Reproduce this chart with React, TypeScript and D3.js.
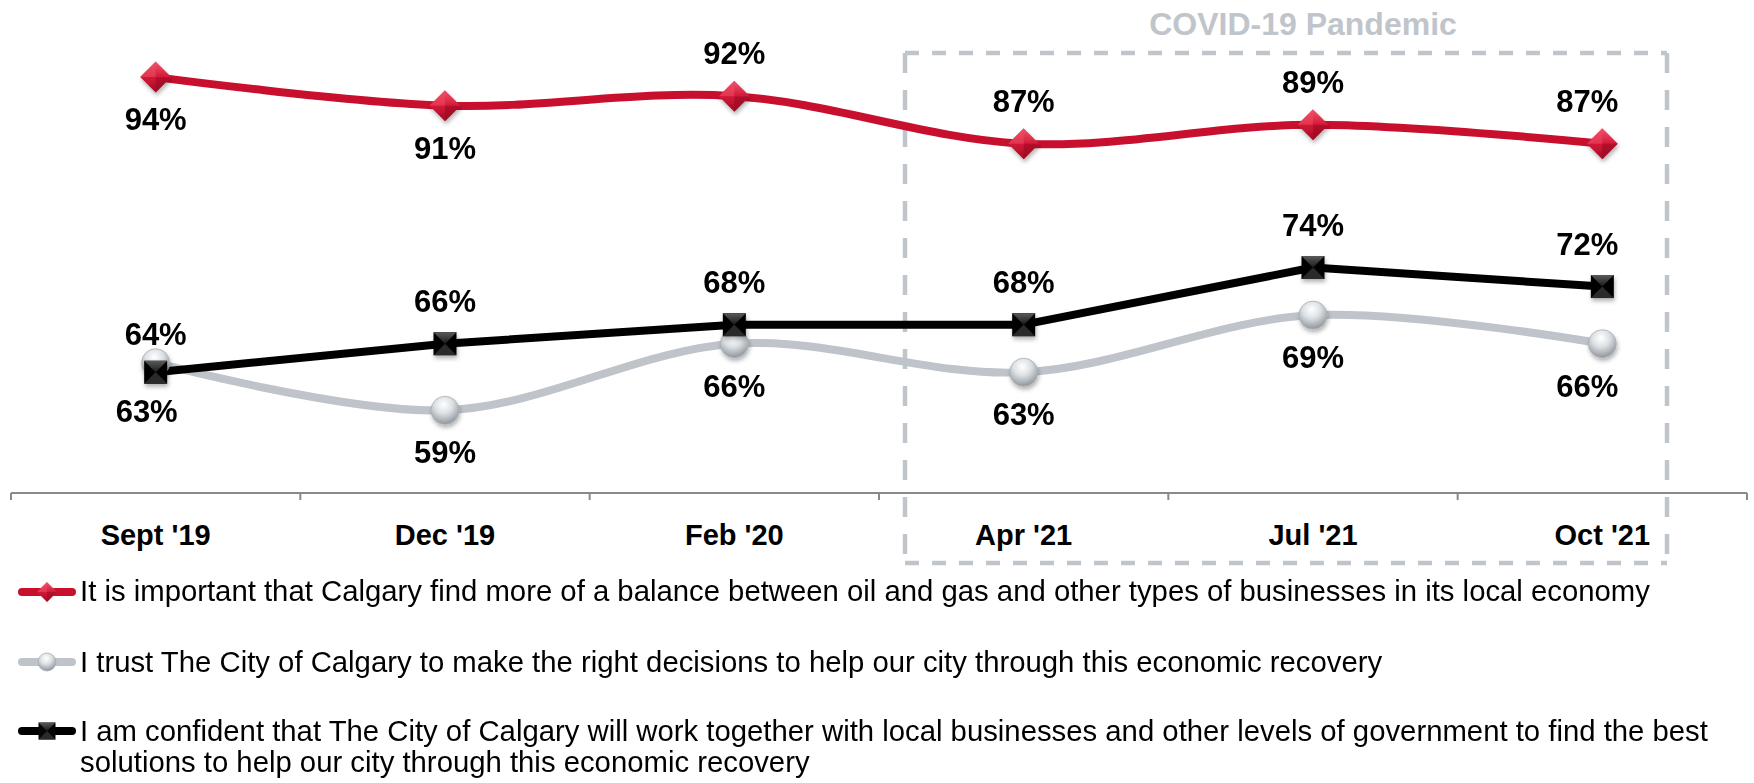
import React from "react";
import * as d3 from "d3";

const categories = ["Sept '19", "Dec '19", "Feb '20", "Apr '21", "Jul '21", "Oct '21"];
const balanceValues = [94, 91, 92, 87, 89, 87];
const trustValues = [64, 59, 66, 63, 69, 66];
const confidentValues = [63, 66, 68, 68, 74, 72];
const balanceLabelPos = ["below", "below", "above", "above", "above", "above"];
const trustLabelPos = ["above", "below", "below", "below", "below", "below"];
const confidentLabelPos = ["below", "above", "above", "above", "above", "above"];
const legendTexts = [
  ["It is important that Calgary find more of a balance between oil and gas and other types of businesses in its local economy"],
  ["I trust The City of Calgary to make the right decisions to help our city through this economic recovery"],
  [
    "I am confident that The City of Calgary will work together with local businesses and other levels of government to find the best",
    "solutions to help our city through this economic recovery",
  ],
];
const covidTitle = "COVID-19 Pandemic";

const W = 1754;
const H = 783;
const FONT = "'Liberation Sans', Arial, Helvetica, sans-serif";
const RED = "#C8102E";
const GRAY = "#BEC4CA";
const BLACK = "#000000";
const BOX = "#BFC5CB";

const x = d3.scalePoint<string>().domain(categories).range([11, 1747]).padding(0.5);
const y = d3.scaleLinear().domain([50, 100]).range([496, 20]);
const step = x.step();
const boundaries = d3.range(categories.length + 1).map((i) => 11 + i * step);

function Diamond({ cx, cy, r }: { cx: number; cy: number; r: number }) {
  return (
    <g>
      <path d={`M${cx},${cy - r}L${cx + r},${cy}L${cx},${cy + r}L${cx - r},${cy}Z`} fill="url(#gDiamond)" />
      <path d={`M${cx - r},${cy}L${cx},${cy - r}L${cx},${cy}Z`} fill="#EE4A63" opacity={0.55} />
      <path d={`M${cx},${cy}L${cx + r},${cy}L${cx},${cy + r}Z`} fill="#8E0A20" opacity={0.45} />
    </g>
  );
}

function Square({ cx, cy, r }: { cx: number; cy: number; r: number }) {
  return (
    <g>
      <rect x={cx - r} y={cy - r} width={2 * r} height={2 * r} fill="#050505" />
      <path d={`M${cx - r},${cy - r}L${cx + r},${cy - r}L${cx},${cy}Z`} fill="url(#gSqTop)" />
      <path d={`M${cx - r},${cy + r}L${cx + r},${cy + r}L${cx},${cy}Z`} fill="#2a2a2a" />
    </g>
  );
}

function Ball({ cx, cy, r }: { cx: number; cy: number; r: number }) {
  return <circle cx={cx} cy={cy} r={r} fill="url(#gBall)" stroke="#A9AFB5" strokeWidth={0.8} />;
}

type Series = {
  values: number[];
  color: string;
  curve: d3.CurveFactory;
  pos: string[];
  marker: "diamond" | "ball" | "square";
};

const series: Series[] = [
  { values: trustValues, color: GRAY, curve: d3.curveCardinal.tension(0), pos: trustLabelPos, marker: "ball" },
  { values: confidentValues, color: BLACK, curve: d3.curveLinear, pos: confidentLabelPos, marker: "square" },
  { values: balanceValues, color: RED, curve: d3.curveCardinal.tension(0), pos: balanceLabelPos, marker: "diamond" },
];

function drawMarker(kind: string, cx: number, cy: number, big: boolean, key?: string) {
  if (kind === "diamond") return <Diamond key={key} cx={cx} cy={cy} r={big ? 15.5 : 10} />;
  if (kind === "ball") return <Ball key={key} cx={cx} cy={cy} r={big ? 14 : 9} />;
  return <Square key={key} cx={cx} cy={cy} r={big ? 11.5 : 8.5} />;
}

export default function App() {
  const lineGen = (s: Series) =>
    d3
      .line<number>()
      .x((_, i) => x(categories[i]) as number)
      .y((v) => y(v))
      .curve(s.curve)(s.values) as string;

  const boxL = 905;
  const boxR = 1667;
  const boxT = 53;
  const boxB = 563;

  const legendRows = [
    { y: 592, base: 601, kind: "diamond", color: RED },
    { y: 662, base: 672, kind: "ball", color: GRAY },
    { y: 731, base: 741, kind: "square", color: BLACK },
  ];

  return (
    <svg
      width={W}
      height={H}
      viewBox={`0 0 ${W} ${H}`}
      style={{ position: "absolute", left: 0, top: 0, background: "#fff" }}
      fontFamily={FONT}
    >
      <defs>
        <linearGradient id="gDiamond" x1="0" y1="0" x2="0" y2="1">
          <stop offset="0%" stopColor="#F0566D" />
          <stop offset="50%" stopColor="#D41838" />
          <stop offset="100%" stopColor="#A00B24" />
        </linearGradient>
        <linearGradient id="gSqTop" x1="0" y1="0" x2="0" y2="1">
          <stop offset="0%" stopColor="#5a5a5a" />
          <stop offset="100%" stopColor="#1a1a1a" />
        </linearGradient>
        <radialGradient id="gBall" cx="45%" cy="30%" r="70%">
          <stop offset="0%" stopColor="#FFFFFF" />
          <stop offset="45%" stopColor="#DDE1E4" />
          <stop offset="100%" stopColor="#8F969C" />
        </radialGradient>
        <filter id="shadow" x="-50%" y="-50%" width="200%" height="200%">
          <feDropShadow dx="1" dy="3" stdDeviation="2" floodColor="#000" floodOpacity="0.3" />
        </filter>
      </defs>
      <rect width={W} height={H} fill="#fff" />

      {/* COVID box */}
      <text x={(1150 + 1456) / 2} y={35} textAnchor="middle" fontSize={32} fontWeight="bold" fill={BOX}>
        {covidTitle}
      </text>
      <g stroke={BOX} strokeWidth={4.5} fill="none">
        <line x1={boxL} y1={boxT} x2={boxR} y2={boxT} strokeDasharray="14 13" />
        <line x1={boxL} y1={boxB} x2={boxR} y2={boxB} strokeDasharray="14 13" />
        <line x1={boxL} y1={boxT} x2={boxL} y2={boxB} strokeDasharray="20 17" />
        <line x1={boxR} y1={boxT} x2={boxR} y2={boxB} strokeDasharray="20 17" />
      </g>

      {/* axis */}
      <line x1={11} y1={493} x2={1747} y2={493} stroke="#8A8A8A" strokeWidth={2} />
      {boundaries.map((bx, i) => (
        <line key={i} x1={bx} y1={493} x2={bx} y2={500} stroke="#8A8A8A" strokeWidth={2} />
      ))}
      {categories.map((c) => (
        <text key={c} x={x(c)} y={545} textAnchor="middle" fontSize={29} fontWeight="bold" fill="#000">
          {c}
        </text>
      ))}

      {/* lines */}
      {series.map((s, si) => (
        <path key={si} d={lineGen(s)} fill="none" stroke={s.color} strokeWidth={8} strokeLinejoin="round" />
      ))}
      {/* markers */}
      {series.map((s, si) => (
        <g key={si} filter="url(#shadow)">
          {s.values.map((v, i) => drawMarker(s.marker, x(categories[i]) as number, y(v), true, `${si}-${i}`))}
        </g>
      ))}
      {/* labels */}
      {series.map((s, si) =>
        s.values.map((v, i) => {
          const cx = x(categories[i]) as number;
          const cy = y(v);
          let dy = s.pos[i] === "above" ? -32 : 53;
          let dx = 0;
          if (i === categories.length - 1) dx = -15;
          if (i === 0 && s.marker === "ball") dy = -18;
          if (i === 0 && s.marker === "square") {
            dy = 50;
            dx = -9;
          }
          return (
            <text
              key={`${si}-${i}`}
              x={cx + dx}
              y={cy + dy}
              textAnchor="middle"
              fontSize={31}
              fontWeight="bold"
              fill="#000"
            >
              {`${v}%`}
            </text>
          );
        })
      )}

      {/* legend */}
      {legendRows.map((r, i) => (
        <g key={i}>
          <line x1={22} y1={r.y} x2={72} y2={r.y} stroke={r.color} strokeWidth={8} strokeLinecap="round" />
          {drawMarker(r.kind, 47, r.y, false)}
          <text x={80} y={r.base} fontSize={29.3} fill="#000">
            {legendTexts[i].map((t, j) => (
              <tspan key={j} x={80} dy={j === 0 ? 0 : 31}>
                {t}
              </tspan>
            ))}
          </text>
        </g>
      ))}
    </svg>
  );
}
